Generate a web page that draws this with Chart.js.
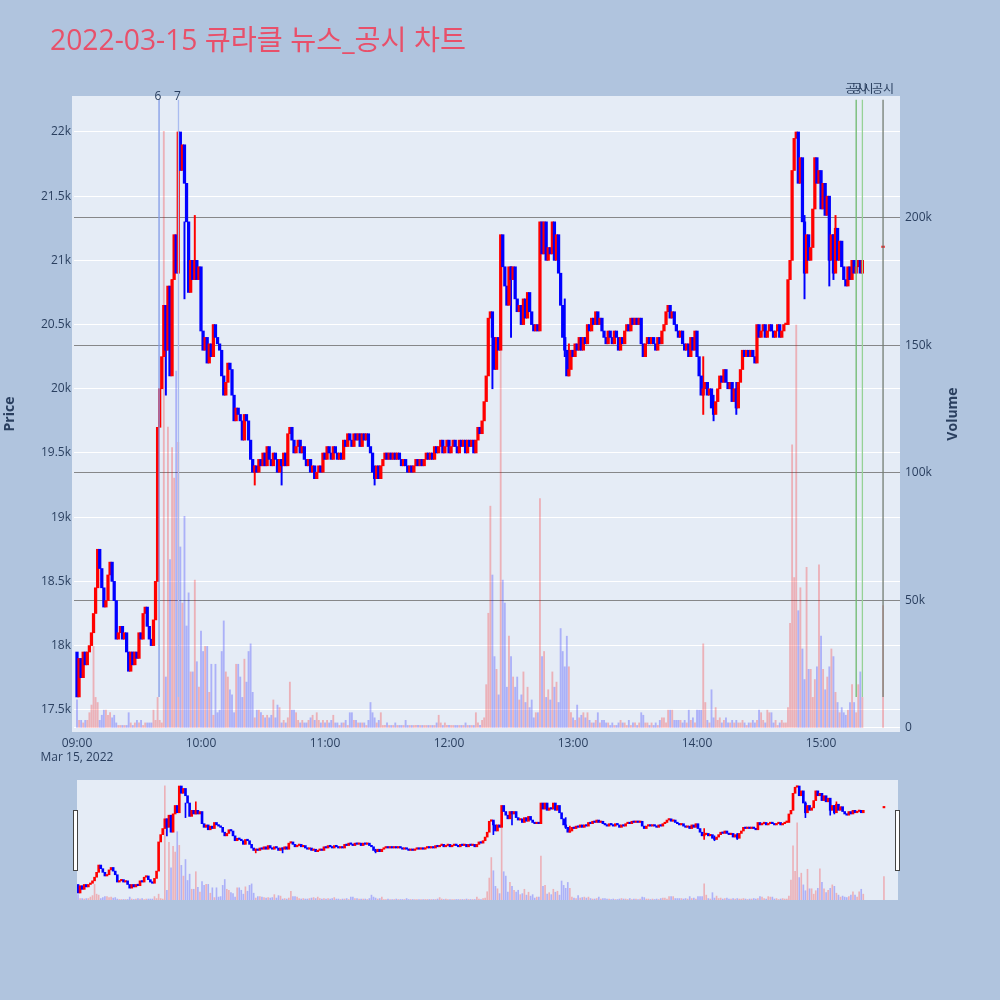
<!DOCTYPE html>
<html lang="ko">
<head>
<meta charset="utf-8">
<title>2022-03-15 큐라클 뉴스_공시 차트</title>
<script src="https://cdn.jsdelivr.net/npm/chart.js@4.4.1/dist/chart.umd.min.js"></script>
<style>
  html, body { margin: 0; padding: 0; background: #b0c4de; }
  body { width: 1000px; height: 1000px; position: relative; overflow: hidden; }
  #main { position: absolute; left: 0; top: 0; }
  #slider { position: absolute; left: 77px; top: 780px; background: #e5ecf6; }
  .handle { position: absolute; top: 810px; width: 3px; height: 59px; background: #fff; border: 1px solid #444; }
</style>
</head>
<body>
<canvas id="main" width="1000" height="772"></canvas>
<canvas id="slider" width="821" height="120"></canvas>
<div class="handle" style="left:73px"></div>
<div class="handle" style="left:895px"></div>
<script>
// 1분봉 (09:00 부터, index = 분)
const firstOpen = 17950;
const closes = [
  17600, 17900, 17750, 17950, 17850, 17950, 18000, 18100, 18250, 18450, // 09:00
  18750, 18600, 18450, 18300, 18350, 18550, 18650, 18500, 18350, 18050,
  18100, 18150, 18050, 18100, 17950, 17800, 17950, 17850, 17950, 17900,
  18100, 18050, 18250, 18300, 18150, 18050, 18000, 18200, 18500, 19700,
  20000, 20250, 20650, 20300, 20800, 20100, 20850, 21200, 20900, 22000,
  21700, 21900, 21600, 21300, 20750, 21000, 20850, 21000, 20850, 20950,
  20450, 20300, 20400, 20200, 20350, 20250, 20500, 20400, 20350, 20300, // 10:00
  20100, 19950, 20050, 20200, 20150, 19950, 19750, 19850, 19800, 19750,
  19600, 19800, 19750, 19600, 19450, 19350, 19400, 19350, 19450, 19400,
  19500, 19400, 19550, 19450, 19400, 19500, 19450, 19350, 19450, 19400,
  19500, 19400, 19650, 19700, 19600, 19500, 19550, 19600, 19500, 19550,
  19450, 19400, 19450, 19350, 19400, 19300, 19350, 19400, 19350, 19500,
  19450, 19550, 19500, 19450, 19550, 19500, 19450, 19500, 19450, 19600, // 11:00
  19550, 19650, 19600, 19550, 19650, 19600, 19650, 19550, 19650, 19600,
  19650, 19550, 19500, 19350, 19300, 19400, 19300, 19400, 19450, 19500,
  19450, 19500, 19450, 19500, 19450, 19500, 19450, 19400, 19450, 19400,
  19350, 19400, 19350, 19400, 19450, 19400, 19450, 19400, 19450, 19500,
  19450, 19500, 19450, 19550, 19500, 19550, 19600, 19500, 19550, 19600,
  19500, 19550, 19600, 19550, 19500, 19600, 19550, 19600, 19500, 19600, // 12:00
  19550, 19600, 19500, 19600, 19700, 19650, 19750, 19900, 20100, 20550,
  20600, 20400, 20150, 20400, 20300, 21200, 20950, 20800, 20650, 20950,
  20850, 20950, 20700, 20600, 20650, 20500, 20700, 20550, 20750, 20600,
  20500, 20450, 20500, 20450, 21300, 21050, 21300, 21000, 21100, 21050,
  21300, 21000, 21200, 20900, 20650, 20400, 20300, 20100, 20150, 20300,
  20250, 20350, 20300, 20400, 20300, 20400, 20350, 20500, 20450, 20550, // 13:00
  20500, 20600, 20500, 20550, 20450, 20400, 20350, 20450, 20400, 20350,
  20450, 20400, 20300, 20400, 20350, 20450, 20500, 20450, 20550, 20500,
  20550, 20500, 20550, 20350, 20250, 20350, 20400, 20350, 20400, 20350,
  20300, 20400, 20350, 20450, 20500, 20600, 20650, 20550, 20600, 20500,
  20450, 20400, 20450, 20350, 20300, 20350, 20250, 20400, 20300, 20450,
  20250, 20100, 19950, 20000, 20050, 19950, 20000, 19850, 19800, 19900, // 14:00
  20000, 20100, 20050, 20150, 20050, 20000, 20050, 19900, 20000, 19850,
  20050, 20150, 20300, 20250, 20300, 20250, 20300, 20250, 20200, 20500,
  20400, 20450, 20500, 20400, 20450, 20500, 20450, 20400, 20450, 20500,
  20400, 20450, 20500, 20500, 20850, 21000, 21700, 21950, 22000, 21600,
  21800, 21300, 20900, 21200, 21000, 21100, 21400, 21800, 21600, 21700,
  21400, 21600, 21350, 21500, 21000, 21200, 20900, 21250, 21000, 21150, // 15:00
  20950, 20850, 20800, 20950, 20850, 21000, 20900, 20950, 21000, 20900,
  21000
];
// 거래량 (천주)
const volumeK = [
  11, 3, 3, 2, 3, 3, 6, 9, 32, 12,
  10, 3, 5, 7, 7, 5, 6, 4, 5, 2,
  1, 1, 1, 1, 1, 6, 2, 1, 2, 3,
  2, 3, 1, 2, 2, 2, 2, 7, 3, 12,
  3, 2, 234, 20, 118, 66, 110, 98, 140, 112,
  71, 49, 83, 40, 53, 22, 22, 58, 26, 16,
  38, 30, 32, 32, 14, 25, 5, 25, 6, 7,
  30, 42, 22, 20, 15, 13, 6, 25, 25, 20,
  12, 27, 18, 30, 33, 14, 4, 7, 7, 6,
  5, 4, 5, 4, 5, 11, 4, 9, 8, 2,
  3, 2, 4, 18, 7, 7, 6, 3, 2, 3,
  2, 2, 3, 4, 5, 3, 6, 3, 2, 3,
  2, 3, 2, 3, 5, 2, 2, 1, 2, 2,
  3, 1, 6, 6, 3, 3, 2, 2, 2, 2,
  1, 3, 10, 6, 4, 2, 3, 6, 1, 1,
  2, 1, 1, 1, 2, 1, 1, 1, 1, 3,
  1, 1, 1, 1, 1, 1, 1, 1, 1, 1,
  1, 1, 1, 1, 2, 5, 2, 1, 2, 1,
  1, 1, 1, 1, 1, 1, 1, 1, 2, 1,
  1, 1, 1, 6, 2, 1, 3, 4, 17, 45,
  87, 60, 28, 23, 13, 172, 58, 49, 16, 36,
  28, 20, 16, 20, 11, 13, 22, 10, 16, 8,
  11, 4, 6, 6, 90, 28, 30, 12, 15, 11,
  22, 16, 18, 10, 39, 30, 24, 36, 24, 6,
  4, 3, 9, 4, 5, 6, 4, 6, 3, 2,
  2, 3, 6, 2, 3, 3, 2, 2, 1, 2,
  1, 1, 2, 3, 2, 2, 1, 3, 1, 2,
  2, 1, 2, 6, 5, 2, 2, 1, 2, 1,
  2, 1, 3, 4, 4, 2, 7, 7, 7, 3,
  3, 3, 3, 2, 3, 2, 7, 3, 4, 2,
  7, 7, 7, 33, 10, 3, 2, 15, 4, 8,
  3, 4, 2, 3, 4, 2, 2, 3, 2, 3,
  2, 2, 3, 2, 1, 2, 2, 3, 2, 3,
  7, 6, 3, 2, 7, 6, 6, 2, 3, 1,
  2, 3, 2, 2, 8, 41, 111, 59, 158, 46,
  55, 31, 19, 63, 23, 23, 12, 19, 24, 64,
  36, 23, 15, 20, 24, 31, 28, 14, 10, 6,
  8, 6, 5, 7, 10, 17, 10, 6, 17, 22,
  12
];
// 꼬리가 눈에 띄는 봉: [분, 저가, 고가]
const wickMinutes = [43, 46, 52, 57, 86, 99, 144, 201, 210, 236, 238, 303, 308, 319, 352, 364, 366, 367];
const wickLows    = [19950, 20250, 20700, 20850, 19250, 19250, 19250, 20000, 20400, 20250, 20100, 19800, 19750, 19800, 20700, 20800, 20850, 21000];
const wickHighs   = [20650, 20850, 21300, 21350, 19400, 19450, 19400, 20550, 20950, 20700, 20350, 20250, 19950, 20050, 21350, 21300, 21200, 21350];

// 15:30 동시호가
const auctionMinute = 390;
const auctionPrice = 21100;
const auctionVolumeK = 48;

const priceTicks = [17500, 18000, 18500, 19000, 19500, 20000, 20500, 21000, 21500, 22000];
const volumeTicks = [0, 50000, 100000, 150000, 200000];
const hourTicks = [0, 60, 120, 180, 240, 300, 360];
const hourLabels = ['09:00', '10:00', '11:00', '12:00', '13:00', '14:00', '15:00'];
const dateLabel = 'Mar 15, 2022';

const newsMinutes = [39.7, 49.1];
const newsLabels = ['6', '7'];
const newsColors = ['rgb(128,155,232)', 'rgb(170,188,240)'];
const noticeMinutes = [377, 380, 390];
const noticeLabels = ['공시', '공시', '공시'];
const noticeColors = ['rgb(110,185,110)', 'rgb(150,210,150)', 'rgb(115,125,115)'];

const titleText = '2022-03-15 큐라클 뉴스_공시 차트';
const TXT = '#2a3f5f';
const FONT = '"Open Sans", "Noto Sans CJK KR", sans-serif';

const UP = 'rgb(255,0,0)', DOWN = 'rgb(0,0,255)';
const UP_VOL = 'rgba(255,0,0,0.25)', DOWN_VOL = 'rgba(0,0,255,0.25)';

// 캔들 / 거래량 데이터 만들기
const candles = [], vols = [], candleColors = [], volColors = [];
let prev = firstOpen;
closes.forEach((c, i) => {
  const up = c >= prev;
  candles.push({ x: i, y: [prev, c] });
  vols.push({ x: i, y: volumeK[i] * 1000 });
  candleColors.push(up ? UP : DOWN);
  volColors.push(up ? UP_VOL : DOWN_VOL);
  prev = c;
});
candles.push({ x: auctionMinute, y: [auctionPrice, auctionPrice] });
vols.push({ x: auctionMinute, y: auctionVolumeK * 1000 });
candleColors.push(UP);
volColors.push(UP_VOL);

const wicks = wickMinutes.map((m, i) => ({ x: m, y: [wickLows[i], wickHighs[i]] }));
const wickColors = wickMinutes.map(m => candleColors[m]);

function datasets(bodyW, volW) {
  return [
    {
      label: 'Price', data: candles, yAxisID: 'y', order: 0, grouped: false,
      backgroundColor: candleColors, barThickness: bodyW, minBarLength: 1.5
    },
    {
      label: 'Wick', data: wicks, yAxisID: 'y', order: 1, grouped: false,
      backgroundColor: wickColors, barThickness: Math.max(1, bodyW / 2)
    },
    {
      label: 'Volume', data: vols, yAxisID: 'yv', order: 2, grouped: false,
      backgroundColor: volColors, barThickness: volW
    }
  ];
}

const tickFont = { family: FONT, size: 12 };

const mainPlugin = {
  id: 'mainDeco',
  beforeDraw(chart) {
    const ctx = chart.ctx;
    const a = chart.chartArea;
    ctx.save();
    ctx.fillStyle = '#e5ecf6';
    ctx.fillRect(72, a.top, a.right - 72, a.bottom - a.top);
    ctx.restore();
  },
  afterDatasetsDraw(chart) {
    const ctx = chart.ctx;
    const xs = chart.scales.x, ys = chart.scales.y;
    const y0 = ys.getPixelForValue(17600), y1 = ys.getPixelForValue(22250);
    ctx.save();
    ctx.lineWidth = 1.3;
    const lines = newsMinutes.map((m, i) => [m, newsColors[i]])
      .concat(noticeMinutes.map((m, i) => [m, noticeColors[i]]));
    lines.forEach(([m, col]) => {
      const x = xs.getPixelForValue(m);
      ctx.strokeStyle = col;
      ctx.beginPath();
      ctx.moveTo(x, y0);
      ctx.lineTo(x, y1);
      ctx.stroke();
    });
    ctx.fillStyle = TXT;
    ctx.textAlign = 'center';
    ctx.textBaseline = 'middle';
    ctx.font = '12px ' + FONT;
    newsMinutes.forEach((m, i) => ctx.fillText(newsLabels[i], xs.getPixelForValue(m) - 1, 97));
    noticeMinutes.forEach((m, i) => ctx.fillText(noticeLabels[i], xs.getPixelForValue(m), 90));
    ctx.restore();
  },
  afterDraw(chart) {
    const ctx = chart.ctx;
    ctx.save();
    // 제목
    let size = 26;
    ctx.font = size + 'px ' + FONT;
    const w = ctx.measureText(titleText).width;
    size = Math.max(20, Math.min(30, size * 416 / w));
    ctx.font = size + 'px ' + FONT;
    ctx.fillStyle = '#e8506a';
    ctx.textAlign = 'left';
    ctx.textBaseline = 'alphabetic';
    ctx.fillText(titleText, 50, 50);
    // 축 제목
    ctx.fillStyle = TXT;
    ctx.font = 'bold 14px ' + FONT;
    ctx.textAlign = 'center';
    ctx.textBaseline = 'middle';
    [['Price', 10], ['Volume', 953]].forEach(([t, x]) => {
      ctx.save();
      ctx.translate(x, 414);
      ctx.rotate(-Math.PI / 2);
      ctx.fillText(t, 0, 0);
      ctx.restore();
    });
    ctx.restore();
  }
};

new Chart(document.getElementById('main'), {
  type: 'bar',
  data: { datasets: datasets(2.6, 1.2) },
  options: {
    responsive: false,
    animation: false,
    layout: { padding: { top: 96, left: 0, right: 0, bottom: 0 } },
    plugins: { legend: { display: false }, tooltip: { enabled: false } },
    scales: {
      x: {
        type: 'linear', min: -1.45, max: 398.2, offset: false,
        grid: { display: false, drawTicks: false, offset: false },
        border: { display: false },
        afterBuildTicks: s => { s.ticks = hourTicks.map(v => ({ value: v })); },
        afterFit: s => { s.height = 40; },
        ticks: {
          autoSkip: false, maxRotation: 0, padding: 4, color: TXT, font: tickFont,
          callback: (v, i) => i === 0 ? [hourLabels[i], dateLabel] : hourLabels[i]
        }
      },
      y: {
        type: 'linear', position: 'left', min: 17327, max: 22280,
        grid: { color: '#ffffff', drawTicks: false },
        border: { display: false },
        afterBuildTicks: s => { s.ticks = priceTicks.map(v => ({ value: v })); },
        afterFit: s => { s.width = 74; },
        ticks: { padding: 3, color: TXT, font: tickFont, callback: v => (v / 1000) + 'k' }
      },
      yv: {
        type: 'linear', position: 'right', min: -1569, max: 247843,
        grid: { color: c => c.tick && c.tick.value === 0 ? '#ffffff' : 'rgba(110,110,110,0.8)', drawTicks: false },
        border: { display: false },
        afterBuildTicks: s => { s.ticks = volumeTicks.map(v => ({ value: v })); },
        afterFit: s => { s.width = 100; },
        ticks: { padding: 5, color: TXT, font: tickFont, callback: v => v === 0 ? '0' : (v / 1000) + 'k' }
      }
    }
  },
  plugins: [mainPlugin]
});

// 레인지 슬라이더 미니 차트
new Chart(document.getElementById('slider'), {
  type: 'bar',
  data: { datasets: datasets(2, 1) },
  options: {
    responsive: false,
    animation: false,
    layout: { padding: 0 },
    plugins: { legend: { display: false }, tooltip: { enabled: false } },
    scales: {
      x: { type: 'linear', display: false, min: -0.5, max: 396.8, offset: false },
      y: { type: 'linear', display: false, min: 17312, max: 22247 },
      yv: { type: 'linear', display: false, min: 0, max: 246000 }
    }
  }
});
</script>
</body>
</html>
